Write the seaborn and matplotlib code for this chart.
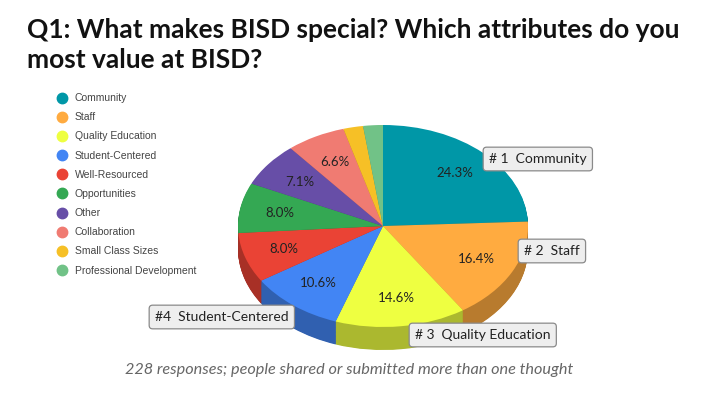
import numpy as np
import matplotlib
matplotlib.use("Agg")
import matplotlib.pyplot as plt
import matplotlib.colors as mcolors
from matplotlib.lines import Line2D
import seaborn as sns

# survey answers (share of mentions, %)
categories = ['Community', 'Staff', 'Quality Education', 'Student-Centered',
              'Well-Resourced', 'Opportunities', 'Other', 'Collaboration',
              'Small Class Sizes', 'Professional Development']
shares = [24.3, 16.4, 14.6, 10.6, 8.0, 8.0, 7.1, 6.6, 2.2, 2.2]
colors = ['#0097a7', '#ffab40', '#eeff41', '#4285f4', '#ea4335',
          '#34a853', '#674ea7', '#f07b72', '#f6c026', '#71c287']
callouts = ['# 1  Community', '# 2  Staff', '# 3  Quality Education', '#4  Student-Centered']

sns.set_theme(style='white')
plt.rcParams['font.family'] = ['Lato', 'DejaVu Sans']

W, H = 709, 398
fig = plt.figure(figsize=(W / 100, H / 100), dpi=100)
ax = fig.add_axes([0, 0, 1, 1])

# pie geometry in pixels
cx, cy, rx, ry, depth_px = 383, 226, 145, 101, 23
depth = depth_px / ry


def darker(c, f=0.72):
    r, g, b = mcolors.to_rgb(c)
    return (r * f, g * f, b * f)


side_cols = [darker(c) for c in colors]

# side wall: stack of darker pies
for d in np.linspace(depth, 0.01, 40):
    ax.pie(shares, colors=side_cols, startangle=90, counterclock=False,
           center=(0, -d), radius=1, wedgeprops=dict(linewidth=0))

# top face
wedges, _, autotexts = ax.pie(
    shares, colors=colors, startangle=90, counterclock=False,
    center=(0, 0), radius=1, wedgeprops=dict(linewidth=0),
    autopct=lambda p: f'{p:.1f}%' if p >= 5 else '', pctdistance=0.72,
    textprops=dict(fontsize=9.5, color='#222222'))

ax.set_aspect('auto')
ax.set_xlim(-cx / rx, (W - cx) / rx)
ax.set_ylim(-(H - cy) / ry, cy / ry)
ax.axis('off')

# legend
handles = [Line2D([0], [0], marker='o', linestyle='', markersize=7.5,
                  markerfacecolor=c, markeredgecolor=c) for c in colors]
leg = fig.legend(handles, categories, loc='upper left',
                 bbox_to_anchor=(52 / W, 1 - 89 / H), frameon=False,
                 prop=dict(family='Liberation Sans', size=7.5),
                 labelspacing=0.88, handletextpad=0.6, handlelength=1.2,
                 borderaxespad=0)
for t in leg.get_texts():
    t.set_color('#444444')

# callout boxes
box = dict(boxstyle='round,pad=0.42,rounding_size=0.25', fc='#eeeeee', ec='#8a8a8a', lw=0.9)
callout_pos = [(489, 159), (524, 251), (415, 335), (155, 317)]
for txt, (x, y) in zip(callouts, callout_pos):
    fig.text(x / W, 1 - y / H, txt, fontsize=10, color='#222222',
             va='center', ha='left', bbox=box)

# title and note
fig.text(27 / W, 1 - 45 / H, 'Q1: What makes BISD special? Which attributes do you\nmost value at BISD?',
         fontsize=19, fontweight='bold', color='#111111', va='center', ha='left',
         linespacing=1.32)
fig.text(349 / W, 1 - 370 / H, '228 responses; people shared or submitted more than one thought',
         fontsize=11.7, style='italic', color='#666666', ha='center', va='center')

fig.savefig('out.png', dpi=100)
